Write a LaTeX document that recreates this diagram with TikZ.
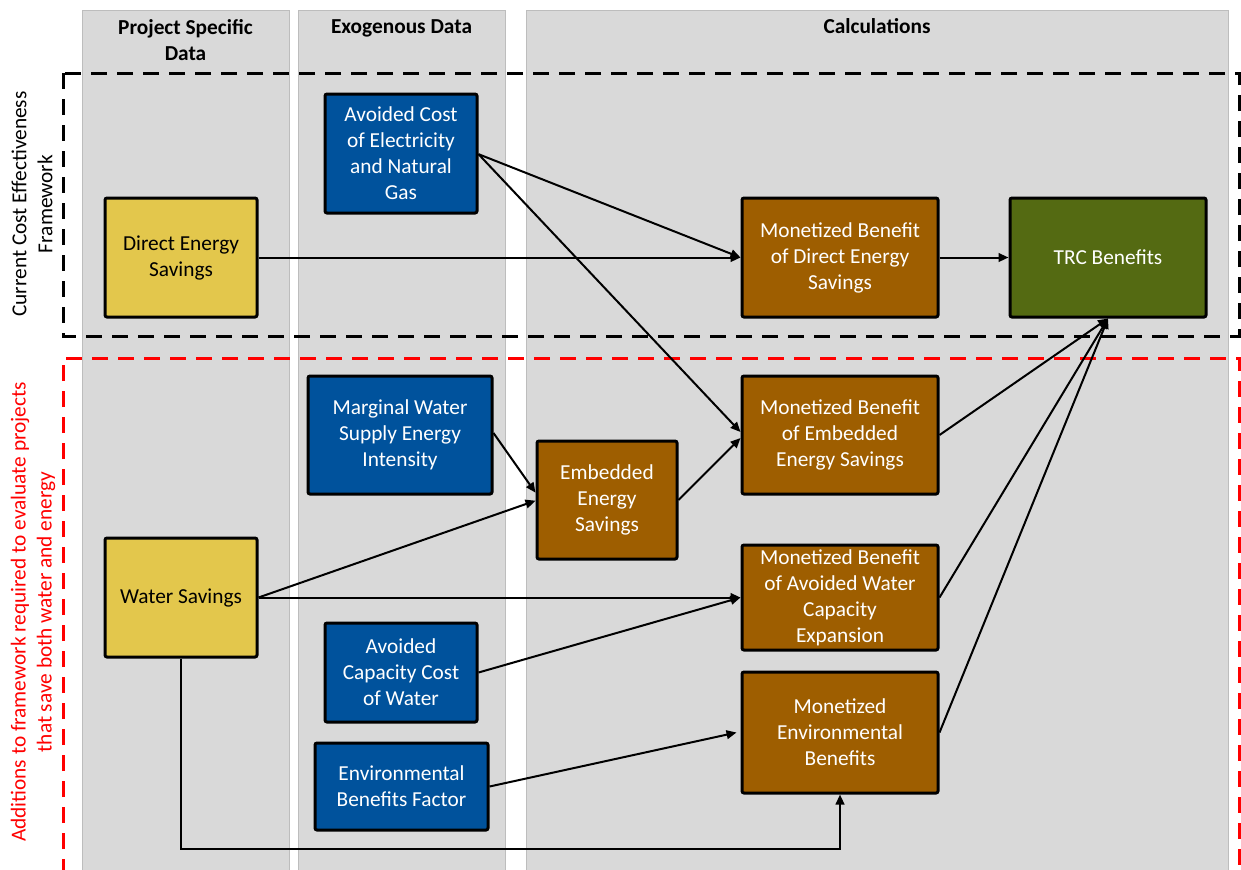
\documentclass[tikz,border=0pt]{standalone}
\usepackage{fontspec}
\setmainfont{Carlito}
\usetikzlibrary{arrows.meta}
\definecolor{colbg}{HTML}{D9D9D9}
\definecolor{colline}{HTML}{BDBDBD}
\definecolor{inyellow}{HTML}{E3C74C}
\definecolor{exblue}{HTML}{00529C}
\definecolor{calcbrown}{HTML}{9E5E00}
\definecolor{trcgreen}{HTML}{546A12}
\definecolor{framered}{HTML}{FF0000}
\begin{document}
\begin{tikzpicture}[x=0.75pt,y=-0.75pt,
  txt/.style={font=\fontsize{16pt}{19.5pt}\selectfont, align=center},
  boxbase/.style={txt, draw=black, line width=2.25pt, rounded corners=1.5pt, inner sep=2pt},
  projbox/.style={boxbase, fill=inyellow, text=black},
  exobox/.style={boxbase, fill=exblue, text=white},
  calcbox/.style={boxbase, fill=calcbrown, text=white},
  trcbox/.style={boxbase, fill=trcgreen, text=white},
  sz/.style 2 args={minimum width={#1*0.75pt}, minimum height={#2*0.75pt}},
  column/.style={fill=colbg, draw=colline, line width=0.75pt},
  header/.style={font=\fontsize{16pt}{19.5pt}\selectfont\bfseries, align=center},
  flow/.style={draw=black, line width=1.5pt, -{Triangle[length=7.5pt, width=6.5pt]}},
  framebox/.style={line width=2.25pt, dash pattern=on 12pt off 7.5pt}
]
% canvas
\useasboundingbox (0,0) rectangle (1241,869);
\fill[white] (0,0) rectangle (1241,869);

% column backgrounds
\draw[column] (82,10) rectangle (289,875);
\draw[column] (298,10) rectangle (505,875);
\draw[column] (526,10) rectangle (1228,875);

% column headers
\node[header] (hproj) at (185.5,40) {Project Specific\\Data};
\node[header, anchor=base] (hexo) at (401.5,33) {Exogenous Data};
\node[header, anchor=base] (hcalc) at (877,33) {Calculations};

% framework outlines
\draw[framebox, black] (63,73) rectangle (1239,336);
\draw[framebox, framered] (63,875) -- (63,358) -- (1239,358) -- (1239,875);

% framework labels
\node[txt, rotate=90] (lcur) at (32,204) {Current Cost Effectiveness\\Framework};
\node[txt, rotate=90, text=framered] (ladd) at (33,612) {Additions to framework required to evaluate projects\\that save both water and energy};

% project specific inputs
\node[projbox, sz={152}{119}] (direct) at (181,257.5) {Direct Energy\\Savings};
\node[projbox, sz={152}{119}] (water) at (181,597.5) {Water Savings};

% exogenous inputs
\node[exobox, sz={152}{119}] (avcost) at (401,153.5) {Avoided Cost\\of Electricity\\and Natural\\Gas};
\node[exobox, sz={184}{118}] (marginal) at (400,435) {Marginal Water\\Supply Energy\\Intensity};
\node[exobox, sz={152}{99}] (avcap) at (401,672.5) {Avoided\\Capacity Cost\\of Water};
\node[exobox, sz={173}{87}] (envfac) at (401.5,786.5) {Environmental\\Benefits Factor};

% calculations
\node[calcbox, sz={140}{118}] (embedded) at (607,500) {Embedded\\Energy\\Savings};
\node[calcbox, sz={196}{119}] (mondirect) at (840,257.5) {Monetized Benefit\\of Direct Energy\\Savings};
\node[calcbox, sz={196}{118}] (monemb) at (840,435) {Monetized Benefit\\of Embedded\\Energy Savings};
\node[calcbox, sz={196}{105}] (moncap) at (840,597.5) {Monetized Benefit\\of Avoided Water\\Capacity\\Expansion};
\node[calcbox, sz={196}{121}] (monenv) at (840,732.5) {Monetized\\Environmental\\Benefits};
\node[trcbox, sz={196}{119}] (trc) at (1108,257.5) {TRC Benefits};

% connectors
\coordinate (avcostout) at ([yshift=-0.5pt]avcost.east);
\draw[flow] (avcostout) -- (mondirect.west);
\draw[flow] (avcostout) -- ([yshift=2.25pt]monemb.west);
\draw[flow] (direct.east) -- (mondirect.west);
\draw[flow] (mondirect.east) -- (trc.west);
\draw[flow] ([yshift=1.5pt]marginal.east) -- ([yshift=5.5pt]embedded.west);
\draw[flow] (water.east) -- ([yshift=-0.5pt]embedded.west);
\draw[flow] (embedded.east) -- ([yshift=-2.25pt]monemb.west);
\draw[flow] (water.east) -- (moncap.west);
\draw[flow] (avcap.east) -- (moncap.west);
\draw[flow] (envfac.east) -- ([xshift=-3pt]monenv.west);
\coordinate (waterelbow) at (181,849);
\draw[flow] (water.south) -- (waterelbow) -| (monenv.south);
\draw[flow] (monemb.east) -- (trc.south);
\draw[flow] (moncap.east) -- (trc.south);
\draw[flow] (monenv.east) -- (trc.south);
\end{tikzpicture}
\end{document}
